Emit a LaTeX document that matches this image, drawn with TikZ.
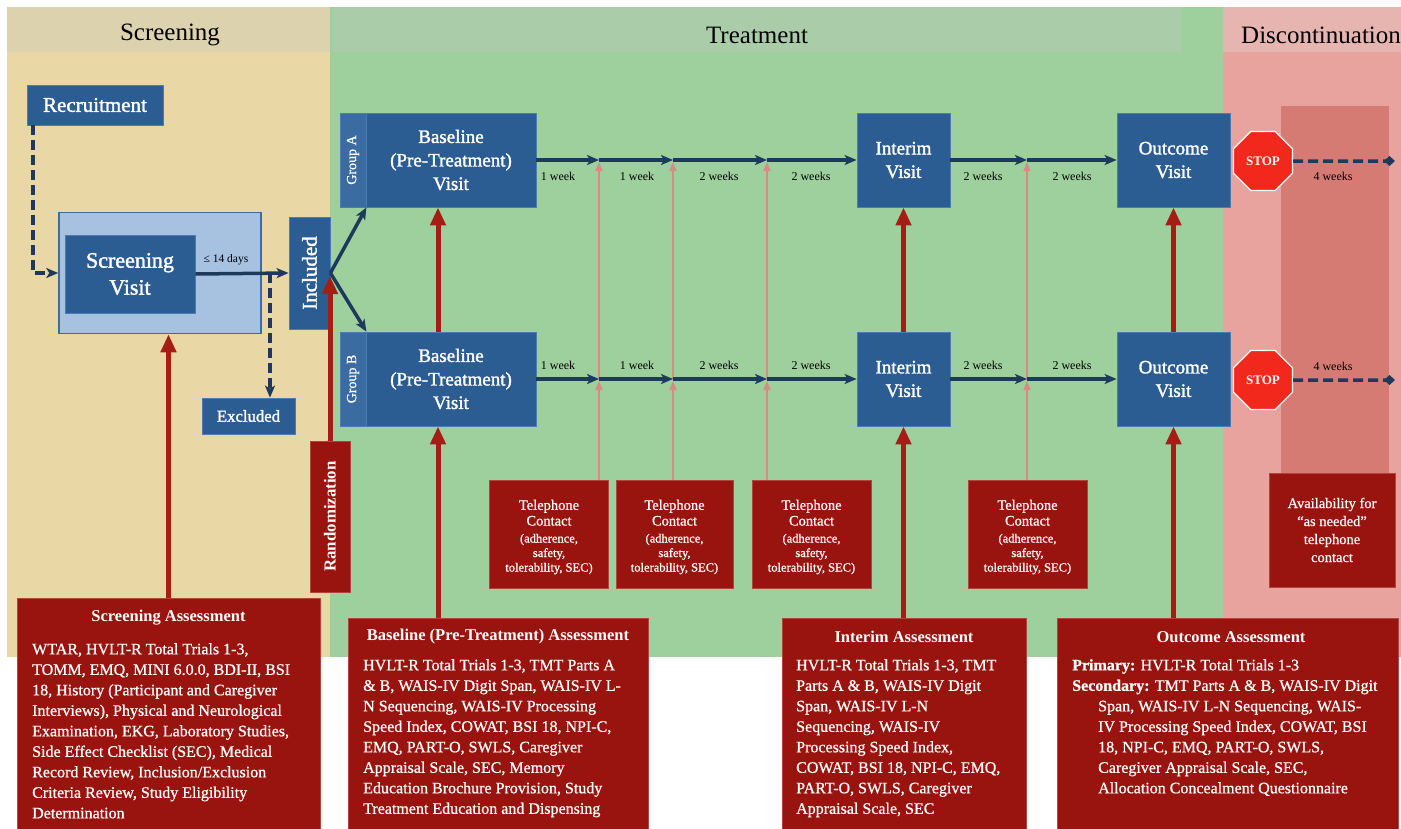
\documentclass[tikz,border=0pt]{standalone}
\usepackage{fontspec}
\usepackage{graphicx}
\setmainfont{Liberation Serif}
\newfontfamily\heavy[FakeBold=1.6]{Liberation Serif}
\newfontfamily\semiheavy[FakeBold=0.7]{Liberation Serif}
\usetikzlibrary{arrows.meta,shapes.geometric}
\definecolor{scrbg}{HTML}{E9D8A6}
\definecolor{scrhd}{HTML}{DDD2AE}
\definecolor{trtbg}{HTML}{9DD09D}
\definecolor{trthd}{HTML}{AACCA8}
\definecolor{disbg}{HTML}{E8A39E}
\definecolor{dishd}{HTML}{E7B5B0}
\definecolor{disdk}{HTML}{D57B73}
\definecolor{bluebox}{HTML}{2C5D92}
\definecolor{bluestrip}{HTML}{3A6CA2}
\definecolor{blueedge}{HTML}{4C7CB2}
\definecolor{lightblue}{HTML}{A7C1E1}
\definecolor{scredge}{HTML}{3D6CA4}
\definecolor{redbox}{HTML}{9A140F}
\definecolor{rededge}{HTML}{B0453E}
\definecolor{redarrow}{HTML}{A61D15}
\definecolor{pinkline}{HTML}{D98A84}
\definecolor{navy}{HTML}{1D3A5C}
\definecolor{stopred}{HTML}{F3281C}
\newcommand{\bigtel}{\semiheavy\fontsize{14.5}{16}\selectfont}
\newcommand{\smalltel}{\semiheavy\fontsize{12.5}{14}\selectfont}
\newcommand{\teltext}{\bigtel Telephone\\[2pt]\bigtel Contact\\[5pt]\smalltel (adherence,\\[2.5pt]\smalltel safety,\\[2.5pt]\smalltel tolerability, SEC)}
\tikzset{
  bluebx/.style={draw=blueedge, line width=0.8pt, fill=bluebox, text=white, inner sep=0pt, align=center},
  stripbx/.style={draw=blueedge, line width=0.8pt, fill=bluestrip, text=white, inner sep=0pt, font=\semiheavy\fontsize{14}{16}\selectfont},
  redbx/.style={draw=rededge, line width=0.8pt, fill=redbox, text=white, inner sep=0pt, align=center},
  navyarr/.style={draw=navy, line width=3.5pt, -{Stealth[length=12pt,width=10pt,inset=3pt]}},
  dasharr/.style={draw=navy, line width=3.5pt, dash pattern=on 10pt off 5pt, -{Stealth[length=12pt,width=10pt,inset=3pt]}},
  diaarr/.style={draw=navy, line width=3.5pt, dash pattern=on 10pt off 5pt, -{Diamond[length=11pt,width=10pt]}},
  redarr/.style={draw=redarrow, line width=5pt, -{Triangle[length=18pt,width=15pt]}},
  pinkarr/.style={draw=pinkline, line width=1.6pt, -{Triangle[length=9pt,width=7pt]}, shorten >=2pt},
  wk/.style={font=\fontsize{12}{14}\selectfont, text=black, inner sep=0pt},
  hdr/.style={font=\fontsize{25}{28}\selectfont, text=black, inner sep=0pt},
  visittxt/.style={font=\heavy\fontsize{19}{23.5}\selectfont},
  teltxt/.style={text=white, inner sep=0pt, align=center},
  asstitle/.style={font=\bfseries\fontsize{16.5}{20}\selectfont, text=white, inner sep=0pt},
  assbody/.style={font=\semiheavy\fontsize{16}{20.5}\selectfont, text=white, inner sep=0pt, align=left, anchor=north west},
  stopsign/.style={regular polygon, regular polygon sides=8, minimum size=64pt, fill=stopred, draw=white, line width=1.2pt, text=white, font=\bfseries\fontsize{13}{14}\selectfont, inner sep=0pt},
}
\begin{document}
\begin{tikzpicture}[x=1pt,y=-1pt]
\useasboundingbox (0,0) rectangle (1401,828);
% panels
\fill[white] (0,0) rectangle (1401,828);
\fill[scrbg] (7,7) rectangle (330,657);
\fill[scrhd] (7,7) rectangle (330,52);
\fill[trtbg] (330,7) rectangle (1223,657);
\fill[trthd] (333,7) rectangle (1182,52);
\fill[disbg] (1223,7) rectangle (1401,657);
\fill[dishd] (1223,7) rectangle (1401,52);
\fill[disdk] (1281,106) rectangle (1389,480);
\node[hdr] (hscr) at (170,35) {Screening};
\node[hdr] (htrt) at (757,35) {Treatment};
\node[hdr, anchor=west] (hdis) at (1241,35) {Discontinuation};

% screening column
\node[bluebx, minimum width=136pt, minimum height=40pt, font=\heavy\fontsize{21}{24}\selectfont] (recr) at (95,105) {Recruitment};
\node[draw=scredge, line width=1.5pt, fill=lightblue, minimum width=202pt, minimum height=121pt, inner sep=0pt] (scrout) at (160,273) {};
\node[bluebx, minimum width=130pt, minimum height=78pt, font=\heavy\fontsize{22}{27}\selectfont] (scrv) at (130,274) {Screening\\Visit};
\node[bluebx, minimum width=41pt, minimum height=112pt, font=\heavy\fontsize{21}{24}\selectfont] (incl) at (309.5,273) {\rotatebox{90}{Included}};
\node[bluebx, minimum width=93pt, minimum height=36pt, font=\heavy\fontsize{16.7}{19}\selectfont] (excl) at (248.5,416) {Excluded};
\node[wk, font=\fontsize{11.5}{13}\selectfont] (l14) at (226,260) {≤ 14 days};

% baseline visits
\node[bluebx, minimum width=196pt, minimum height=94pt] (baseA) at (438,160) {};
\node[stripbx, minimum width=26pt, minimum height=94pt] (grpA) at (353,160) {\rotatebox{90}{Group A}};
\node[teltxt, visittxt] (baseAt) at (451,160) {Baseline\\(Pre-Treatment)\\Visit};
\node[bluebx, minimum width=196pt, minimum height=94pt] (baseB) at (438,379) {};
\node[stripbx, minimum width=26pt, minimum height=94pt] (grpB) at (353,379) {\rotatebox{90}{Group B}};
\node[teltxt, visittxt] (baseBt) at (451,379) {Baseline\\(Pre-Treatment)\\Visit};

% interim and outcome
\node[bluebx, visittxt, minimum width=93pt, minimum height=94pt] (intA) at (903.5,160) {Interim\\Visit};
\node[bluebx, visittxt, minimum width=93pt, minimum height=94pt] (intB) at (903.5,379) {Interim\\Visit};
\node[bluebx, visittxt, minimum width=113pt, minimum height=94pt] (outA) at (1173.5,160) {Outcome\\Visit};
\node[bluebx, visittxt, minimum width=113pt, minimum height=94pt] (outB) at (1173.5,379) {Outcome\\Visit};

% stop signs
\node[stopsign] (stopA) at (1263,161) {STOP};
\node[stopsign] (stopB) at (1263,380) {STOP};
\coordinate (endA) at (1395,161);
\coordinate (endB) at (1395,380);
\node[wk] (l4A) at (1333,176) {4 weeks};
\node[wk] (l4B) at (1333,366) {4 weeks};

% tick coordinates
\coordinate (tA1) at (599,160); \coordinate (tB1) at (599,379);
\coordinate (tA2) at (673,160); \coordinate (tB2) at (673,379);
\coordinate (tA3) at (767,160); \coordinate (tB3) at (767,379);
\coordinate (tA4) at (1027,160); \coordinate (tB4) at (1027,379);

% telephone boxes
\node[redbx, minimum width=119pt, minimum height=108pt] (tel1) at (548.5,534) {};
\node[redbx, minimum width=117pt, minimum height=108pt] (tel2) at (674.5,534) {};
\node[redbx, minimum width=119pt, minimum height=108pt] (tel3) at (811.5,534) {};
\node[redbx, minimum width=119pt, minimum height=108pt] (tel4) at (1027.5,534) {};
\node[teltxt] (tel1txt) at (549,537) {\teltext};
\node[teltxt] (tel2txt) at (674.5,537) {\teltext};
\node[teltxt] (tel3txt) at (811.5,537) {\teltext};
\node[teltxt] (tel4txt) at (1027.5,537) {\teltext};
\node[redbx, minimum width=126pt, minimum height=114pt, font=\semiheavy\fontsize{14.5}{18}\selectfont] (avail) at (1332,530) {Availability for\\“as needed”\\telephone\\contact};

% pink telephone connectors
\draw[pinkarr] (tel1.north -| tB1) -- (tB1);
\draw[pinkarr] (tB1) -- (tA1);
\draw[pinkarr] (tel2.north -| tB2) -- (tB2);
\draw[pinkarr] (tB2) -- (tA2);
\draw[pinkarr] (tel3.north -| tB3) -- (tB3);
\draw[pinkarr] (tB3) -- (tA3);
\draw[pinkarr] (tel4.north -| tB4) -- (tB4);
\draw[pinkarr] (tB4) -- (tA4);

% row arrows
\draw[navyarr] (baseA.east) -- (tA1);
\draw[navyarr] (tA1) -- (tA2);
\draw[navyarr] (tA2) -- (tA3);
\draw[navyarr] (tA3) -- (intA.west);
\draw[navyarr] (intA.east) -- (tA4);
\draw[navyarr] (tA4) -- (outA.west);
\draw[navyarr] (baseB.east) -- (tB1);
\draw[navyarr] (tB1) -- (tB2);
\draw[navyarr] (tB2) -- (tB3);
\draw[navyarr] (tB3) -- (intB.west);
\draw[navyarr] (intB.east) -- (tB4);
\draw[navyarr] (tB4) -- (outB.west);
\draw[diaarr] (stopA.east) -- (endA);
\draw[diaarr] (stopB.east) -- (endB);

% week labels
\node[wk] (wA1) at (558,176) {1 week};
\node[wk] (wA2) at (637,176) {1 week};
\node[wk] (wA3) at (719,176) {2 weeks};
\node[wk] (wA4) at (811,176) {2 weeks};
\node[wk] (wA5) at (983,176) {2 weeks};
\node[wk] (wA6) at (1072,176) {2 weeks};
\node[wk] (wB1) at (558,365) {1 week};
\node[wk] (wB2) at (637,365) {1 week};
\node[wk] (wB3) at (719,365) {2 weeks};
\node[wk] (wB4) at (811,365) {2 weeks};
\node[wk] (wB5) at (983,365) {2 weeks};
\node[wk] (wB6) at (1072,365) {2 weeks};

% screening connectors
\coordinate (rc) at (33,273);
\coordinate (ex) at (270,273);
\draw[dasharr] (recr.south west -| rc) -- (rc) -- (scrout.west);
\draw[navyarr] (scrv.east) -- (incl.west);
\draw[dasharr] (ex) -- (ex |- excl.north);
\draw[navyarr] (incl.east) -- (grpA.south east);
\draw[navyarr] (incl.east) -- (grpB.north east);

% assessment boxes
\node[redbx, minimum width=303pt, minimum height=234pt] (sass) at (168.5,715) {};
\node[redbx, minimum width=40pt, minimum height=151pt, font=\bfseries\fontsize{16.8}{19}\selectfont] (rand) at (330,516.5) {\rotatebox{90}{Randomization}};
\node[redbx, minimum width=300pt, minimum height=214pt] (bass) at (498,725) {};
\node[redbx, minimum width=244pt, minimum height=214pt] (iass) at (904,725) {};
\node[redbx, minimum width=341pt, minimum height=214pt] (oass) at (1227.5,725) {};

\node[asstitle] (sasst) at (168.5,618) {Screening Assessment};
\node[assbody] (sassb) at (32,643) {WTAR, HVLT-R Total Trials 1-3,\\TOMM, EMQ, MINI 6.0.0, BDI-II, BSI\\18, History (Participant and Caregiver\\Interviews), Physical and Neurological\\Examination, EKG, Laboratory Studies,\\Side Effect Checklist (SEC), Medical\\Record Review, Inclusion/Exclusion\\Criteria Review, Study Eligibility\\Determination};
\node[asstitle] (basst) at (498,637) {Baseline (Pre-Treatment) Assessment};
\node[assbody] (bassb) at (363,659) {HVLT-R Total Trials 1-3, TMT Parts A\\\& B, WAIS-IV Digit Span, WAIS-IV L-\\N Sequencing, WAIS-IV Processing\\Speed Index, COWAT, BSI 18, NPI-C,\\EMQ, PART-O, SWLS, Caregiver\\Appraisal Scale, SEC, Memory\\Education Brochure Provision, Study\\Treatment Education and Dispensing};
\node[asstitle] (iasst) at (904,637) {Interim Assessment};
\node[assbody] (iassb) at (796,659) {HVLT-R Total Trials 1-3, TMT\\Parts A \& B, WAIS-IV Digit\\Span, WAIS-IV L-N\\Sequencing, WAIS-IV\\Processing Speed Index,\\COWAT, BSI 18, NPI-C, EMQ,\\PART-O, SWLS, Caregiver\\Appraisal Scale, SEC};
\node[asstitle] (oasst) at (1231,637) {Outcome Assessment};
\node[assbody] (oassb) at (1072,659) {\textbf{Primary:} HVLT-R Total Trials 1-3\\\textbf{Secondary:} TMT Parts A \& B, WAIS-IV Digit\\\hspace*{26pt}Span, WAIS-IV L-N Sequencing, WAIS-\\\hspace*{26pt}IV Processing Speed Index, COWAT, BSI\\\hspace*{26pt}18, NPI-C, EMQ, PART-O, SWLS,\\\hspace*{26pt}Caregiver Appraisal Scale, SEC,\\\hspace*{26pt}Allocation Concealment Questionnaire};

% red assessment arrows
\draw[redarr] (sass.north) -- (sass.north |- scrout.south);
\draw[redarr, shorten >=3pt] (rand.north) -- (rand.north |- incl.east);
\draw[redarr] (bass.north -| baseB.south) -- (baseB.south);
\draw[redarr] (baseB.north) -- (baseA.south);
\draw[redarr] (iass.north -| intB.south) -- (intB.south);
\draw[redarr] (intB.north) -- (intA.south);
\draw[redarr] (oass.north -| outB.south) -- (outB.south);
\draw[redarr] (outB.north) -- (outA.south);
\end{tikzpicture}
\end{document}
